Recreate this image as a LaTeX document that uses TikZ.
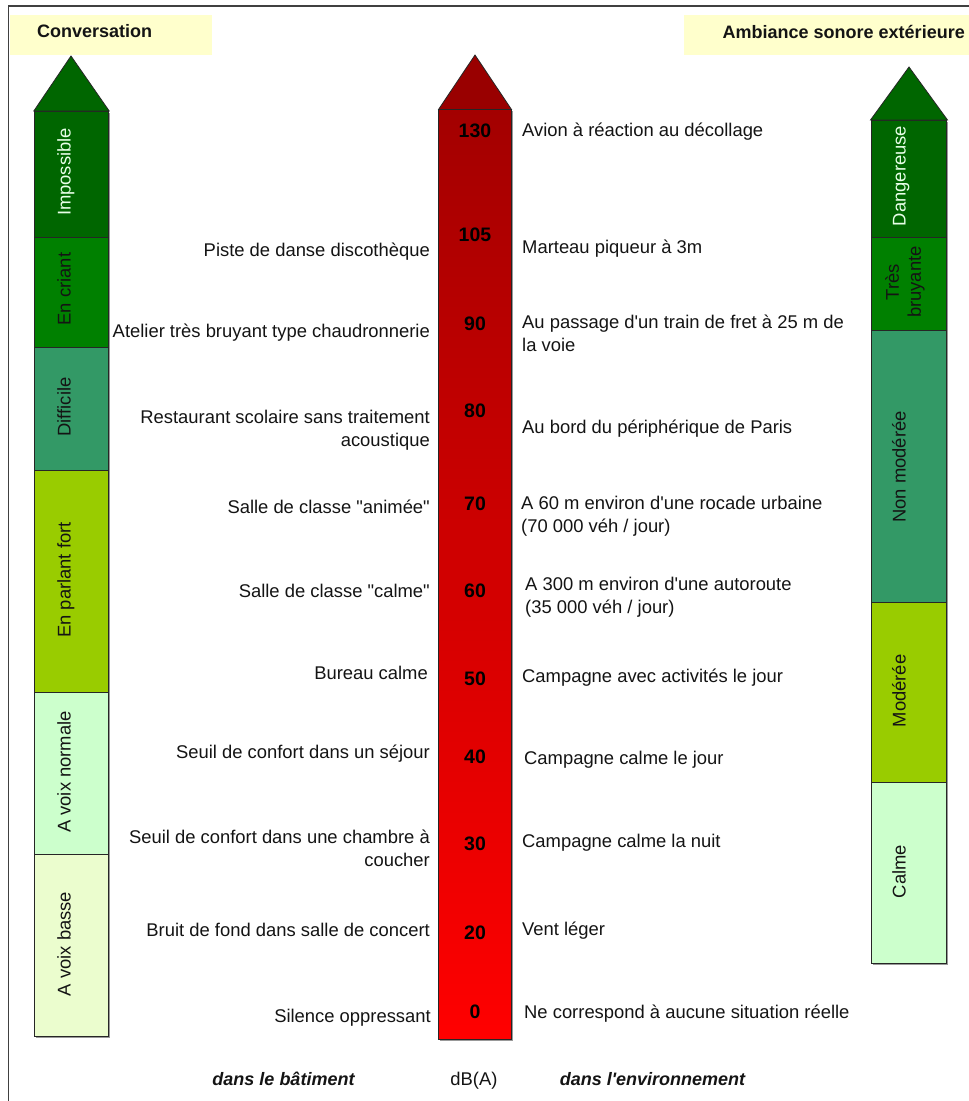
\documentclass[tikz,border=0pt]{standalone}
\usepackage{fontspec}
\setmainfont{Liberation Sans}
\usetikzlibrary{shadows}
\definecolor{dkgreen}{HTML}{006600}
\definecolor{mdgreen}{HTML}{008000}
\definecolor{sea}{HTML}{339966}
\definecolor{lime}{HTML}{99CC00}
\definecolor{pale}{HTML}{CCFFCC}
\definecolor{paler}{HTML}{EBFDCE}
\definecolor{cream}{HTML}{FFFFCC}
\definecolor{dred}{HTML}{990000}
\definecolor{topred}{HTML}{A30000}
\definecolor{botred}{HTML}{FF0000}
\definecolor{framec}{HTML}{404040}
\definecolor{txt}{HTML}{141414}
\definecolor{lighttxt}{HTML}{E8FFE8}
\newcommand{\fnorm}{\fontsize{18.4}{22.5}\selectfont}
\newcommand{\fbold}{\fontsize{18}{22}\selectfont\bfseries}
\newcommand{\fnum}{\fontsize{19.5}{23}\selectfont\bfseries}
\newcommand{\dq}{\textquotedbl}
\newcommand{\sq}{\textquotesingle}
\tikzset{
  shad/.style={drop shadow={shadow xshift=1.5pt, shadow yshift=-1.5pt, fill=black!40, opacity=1}},
  seg/.style={draw=black!85, line width=0.8pt, inner sep=0pt, minimum width=74pt, shad},
  vlab/.style={rotate=90, anchor=base, inner sep=0pt, font=\fnorm, text=txt},
  lt/.style={anchor=base east, inner sep=0pt, font=\fnorm, text=txt, align=right},
  rt/.style={anchor=base west, inner sep=0pt, font=\fnorm, text=txt, align=left},
  num/.style={anchor=base, inner sep=0pt, font=\fnum, text=black},
  titlebox/.style={fill=cream, inner sep=0pt, draw=none},
  ttl/.style={anchor=base west, inner sep=0pt, font=\fbold, text=txt},
  foot/.style={anchor=base, inner sep=0pt, font=\fbold\itshape, text=txt},
  tri/.style={draw=black!85, line width=0.8pt, line join=miter},
}
\begin{document}
\begin{tikzpicture}[x=1pt,y=-1pt]
\useasboundingbox (0,0) rectangle (969,1101);
\clip (0,0) rectangle (969,1101);
\fill[white] (0,0) rectangle (969,1101);
% frame
\draw[line width=1.3pt, draw=framec] (8.3,6) rectangle (995,1125);

% title boxes
\node[titlebox, minimum width=201.5pt, minimum height=40pt] (convbox) at (110.75,35) {};
\node[ttl] (convtitle) at (37,37.5) {Conversation};
\node[titlebox, minimum width=300pt, minimum height=40pt] (ambbox) at (834,35) {};
\node[ttl] (ambtitle) at (722.5,38) {Ambiance sonore extérieure};

% ---------- left column
\node[seg, fill=dkgreen, minimum height=126pt] (imp) at (71.5,174) {};
\node[seg, fill=mdgreen, minimum height=110pt] (cri) at (71.5,292) {};
\node[seg, fill=sea,     minimum height=123pt] (dif) at (71.5,408.5) {};
\node[seg, fill=lime,    minimum height=222pt] (fort) at (71.5,581) {};
\node[seg, fill=pale,    minimum height=162pt] (norm) at (71.5,773) {};
\node[seg, fill=paler,   minimum height=182pt] (basse) at (71.5,945) {};
\filldraw[tri, fill=dkgreen] (33.8,111) -- (71,56) -- (109.2,111) -- cycle;

\node[vlab, text=lighttxt] (impl) at (70.5,172) {Impossible};
\node[vlab] (cril) at (70.5,289) {En criant};
\node[vlab] (difl) at (70.5,407) {Difficile};
\node[vlab] (fortl) at (70.5,580) {En parlant fort};
\node[vlab] (norml) at (70.5,772) {A voix normale};
\node[vlab] (bassel) at (70.5,944) {A voix basse};

% ---------- central column
\node[draw=black!85, line width=0.8pt, inner sep=0pt, minimum width=73pt, minimum height=930pt,
      top color=topred, bottom color=botred, shad] (db) at (475,574.5) {};
\filldraw[tri, fill=dred] (438.5,109.5) -- (475,55) -- (511.5,109.5) -- cycle;

\node[num] (n130) at (475,137) {130};
\node[num] (n105) at (475,241) {105};
\node[num] (n90) at (475,330) {90};
\node[num] (n80) at (475,417) {80};
\node[num] (n70) at (475,510) {70};
\node[num] (n60) at (475,597) {60};
\node[num] (n50) at (475,685) {50};
\node[num] (n40) at (475,763) {40};
\node[num] (n30) at (475,850) {30};
\node[num] (n20) at (475,939) {20};
\node[num] (n0) at (475,1018) {0};

% ---------- left texts (multi-line nodes: base = last line)
\node[lt] (t105) at (430,256) {Piste de danse discothèque};
\node[lt] (t90) at (430,337) {Atelier très bruyant type chaudronnerie};
\node[lt] (t80) at (430,446) {Restaurant scolaire sans traitement\\acoustique};
\node[lt] (t70) at (430,513) {Salle de classe \dq animée\dq};
\node[lt] (t60) at (430,597) {Salle de classe \dq calme\dq};
\node[lt] (t50) at (428,679) {Bureau calme};
\node[lt] (t40) at (430,758) {Seuil de confort dans un séjour};
\node[lt] (t30) at (430,866) {Seuil de confort dans une chambre à\\coucher};
\node[lt] (t20) at (430,936) {Bruit de fond dans salle de concert};
\node[lt] (t0) at (431,1022) {Silence oppressant};

% ---------- right texts
\node[rt] (e130) at (522,136) {Avion à réaction au décollage};
\node[rt] (e105) at (522,253) {Marteau piqueur à 3m};
\node[rt] (e90) at (522,351) {Au passage d\sq un train de fret à 25 m de\\la voie};
\node[rt] (e80) at (522,433) {Au bord du périphérique de Paris};
\node[rt] (e70) at (521,532) {A 60 m environ d\sq une rocade urbaine\\(70 000 véh / jour)};
\node[rt] (e60) at (525,613) {A 300 m environ d\sq une autoroute\\(35 000 véh / jour)};
\node[rt] (e50) at (522,682) {Campagne avec activités le jour};
\node[rt] (e40) at (524,764) {Campagne calme le jour};
\node[rt] (e30) at (522,847) {Campagne calme la nuit};
\node[rt] (e20) at (522,935) {Vent léger};
\node[rt] (e0) at (524,1018) {Ne correspond à aucune situation réelle};

% ---------- right column
\node[seg, fill=dkgreen, minimum width=75pt, minimum height=117pt] (dang) at (909,178.5) {};
\node[seg, fill=mdgreen, minimum width=75pt, minimum height=93.5pt] (tres) at (909,283.75) {};
\node[seg, fill=sea,     minimum width=75pt, minimum height=271.5pt] (nonmod) at (909,466.25) {};
\node[seg, fill=lime,    minimum width=75pt, minimum height=180pt] (mod) at (909,692) {};
\node[seg, fill=pale,    minimum width=75pt, minimum height=181pt] (calme) at (909,872.5) {};
\filldraw[tri, fill=dkgreen] (870.5,120) -- (909,67) -- (947.5,120) -- cycle;

\node[vlab, text=lighttxt] (dangl) at (905.5,176) {Dangereuse};
\node[vlab, anchor=center, align=center, font=\fontsize{18.4}{22}\selectfont] (tresl) at (905,282) {Très\\bruyante};
\node[vlab] (nonmodl) at (905.5,467) {Non modérée};
\node[vlab] (modl) at (905.5,691) {Modérée};
\node[vlab] (calmel) at (905.5,871.5) {Calme};

% ---------- footer
\node[foot] (fbat) at (283.5,1085) {dans le bâtiment};
\node[foot, font=\fnorm] (fdb) at (474,1085) {dB(A)};
\node[foot] (fenv) at (652.5,1085) {dans l\sq environnement};
\end{tikzpicture}
\end{document}
